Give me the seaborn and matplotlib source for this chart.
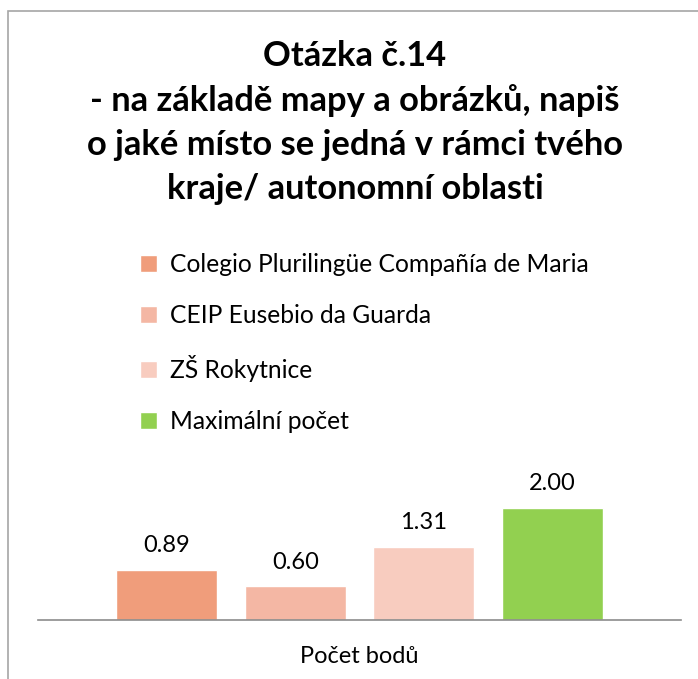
import numpy as np
import pandas as pd
import matplotlib.pyplot as plt
import seaborn as sns
from matplotlib.patches import Rectangle

schools = ['Colegio Plurilingüe Compañía de Maria', 'CEIP Eusebio da Guarda',
           'ZŠ Rokytnice', 'Maximální počet']
points = [0.89, 0.60, 1.31, 2.00]
category = 'Počet bodů'
colors = ['#F09D7B', '#F4B7A4', '#F8CCBF', '#92D050']
title = 'Otázka č.14\n- na základě mapy a obrázků, napiš\no jaké místo se jedná v rámci tvého\nkraje/ autonomní oblasti'

sns.set_theme(style='white')
plt.rcParams['font.family'] = ['Lato', 'DejaVu Sans']
plt.rcParams['text.color'] = 'black'

df = pd.DataFrame({'kat': [category] * len(schools), 'skola': schools, 'body': points})

W, H = 698, 679
fig = plt.figure(figsize=(W / 100, H / 100), dpi=100)
ax = fig.add_axes([38 / W, (H - 620) / H, (681 - 38) / W, 150 / H])

sns.barplot(data=df, x='kat', y='body', hue='skola', hue_order=schools,
            palette=colors, width=0.8, gap=0.217, saturation=1, ax=ax, legend=True)

for c in ax.containers:
    ax.bar_label(c, fmt='%.2f', padding=10, fontsize=17, color='black')

ax.set_ylim(0, 150 / 56)
ax.set_xlim(-0.5, 0.5)
ax.set_xlabel('')
ax.set_ylabel('')
ax.set_yticks([])
for s in ['left', 'top', 'right']:
    ax.spines[s].set_visible(False)
ax.spines['bottom'].set_color('#8C8C8C')
ax.spines['bottom'].set_linewidth(1.2)
ax.tick_params(axis='x', length=0, pad=19, labelsize=17, colors='black')

handles, labels = ax.get_legend_handles_labels()
ax.get_legend().remove()
fig.legend(handles, labels, loc='upper left', bbox_to_anchor=(140 / W, 1 - 253 / H),
           frameon=False, fontsize=17.7, handlelength=0.7, handleheight=0.7,
           handletextpad=0.5, labelspacing=1.14, borderaxespad=0, borderpad=0,
           labelcolor='black')

fig.text(355 / W, 1 - 40 / H, title, ha='center', va='top', fontsize=24.8,
         fontweight='bold', linespacing=1.45, color='black')

fig.patches.append(Rectangle((8 / W, -0.1), 1.2, 1 - 11 / H + 0.1, transform=fig.transFigure,
                             fill=False, edgecolor='#A6A6A6', linewidth=1.2))

fig.savefig('out.png', dpi=100)
